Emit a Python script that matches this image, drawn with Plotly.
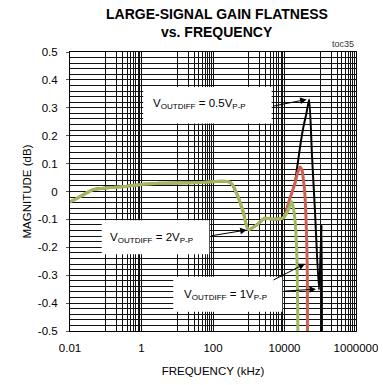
# -*- coding: utf-8 -*-
import plotly.graph_objects as go

# frequency (kHz) / magnitude (dB)
freq_2v = [0.01, 0.0155, 0.029, 0.045, 0.13, 0.39, 1.1, 3.3, 40, 300, 457, 700, 980,
           1660, 2840, 4400, 9300, 12700, 15900, 18700, 21900, 24300]
mag_2v = [-0.037, -0.025, -0.005, 0.007, 0.014, 0.019, 0.026, 0.03, 0.032, 0.033, -0.007,
          -0.073, -0.136, -0.12, -0.096, -0.099, -0.094, -0.067, -0.037, -0.078, -0.21, -0.8]

freq_1v = [0.01, 0.0155, 0.029, 0.045, 0.13, 0.39, 1.1, 3.3, 40, 300, 457, 700, 980,
           1660, 2840, 4400, 9300, 13600, 16500, 19700, 23000, 27200, 31000, 34000,
           37000, 40500, 43500, 44500]
mag_1v = [-0.037, -0.025, -0.005, 0.007, 0.014, 0.019, 0.026, 0.03, 0.032, 0.033, -0.007,
          -0.073, -0.136, -0.12, -0.096, -0.099, -0.094, -0.031, 0.0, 0.029, 0.065, 0.088,
          0.075, 0.04, -0.007, -0.12, -0.3, -0.8]

freq_05v = [0.01, 0.0155, 0.029, 0.045, 0.13, 0.39, 1.1, 3.3, 40, 300, 457, 700, 980,
            1660, 2840, 4400, 9300, 13600, 16500, 19700, 23400, 28000, 33600, 41000,
            49000, 58700, 71000, 92300, 109600, 110500]
mag_05v = [-0.037, -0.025, -0.005, 0.007, 0.014, 0.019, 0.026, 0.03, 0.032, 0.033, -0.007,
           -0.073, -0.136, -0.12, -0.096, -0.099, -0.094, -0.031, 0.0, 0.035, 0.10, 0.17,
           0.23, 0.28, 0.33, 0.13, -0.067, -0.352, -0.12, -0.8]

x_ticks = [0.01, 1, 100, 10000, 1000000]
x_labels = ["0.01", "1", "100", "10000", "1000000"]
y_ticks = [0.5, 0.4, 0.3, 0.2, 0.1, 0, -0.1, -0.2, -0.3, -0.4, -0.5]
y_labels = ["0.5", "0.4", "0.3", "0.2", "0.1", "0", "-0.1", "-0.2", "-0.3", "-0.4", "-0.5"]

# excel-style minor grid: every 0.1*k inside each two-decade span
minor_x = [b * k for b in [0.1, 10, 1000, 100000] for k in range(1, 10)]

FONT = "Liberation Sans, Arial, sans-serif"

fig = go.Figure()
fig.add_trace(go.Scatter(x=freq_05v, y=mag_05v, mode="lines",
                         line=dict(color="#000000", width=2, shape="spline", smoothing=0.6)))
fig.add_trace(go.Scatter(x=freq_1v, y=mag_1v, mode="lines",
                         line=dict(color="#CD5F55", width=3, shape="spline", smoothing=0.8)))
fig.add_trace(go.Scatter(x=freq_2v, y=mag_2v, mode="lines",
                         line=dict(color="#9DBB5E", width=3, shape="spline", smoothing=0.8)))

# white label boxes (paper coords)
for x0, x1, y0, y1 in [(0.256, 0.705, 0.744, 0.875),
                       (0.111, 0.487, 0.275, 0.397),
                       (0.361, 0.742, 0.069, 0.194)]:
    fig.add_shape(type="rect", xref="paper", yref="paper", x0=x0, x1=x1, y0=y0, y1=y1,
                  fillcolor="white", line=dict(width=0), layer="above")

labels = [("V<sub>OUTDIFF</sub> = 0.5V<sub>P-P</sub>", 0.2815, 0.814),
          ("V<sub>OUTDIFF</sub> = 2V<sub>P-P</sub>", 0.134, 0.333),
          ("V<sub>OUTDIFF</sub> = 1V<sub>P-P</sub>", 0.391, 0.129)]
for txt, x, y in labels:
    fig.add_annotation(text=txt, xref="paper", yref="paper", x=x, y=y, xanchor="left",
                       yanchor="middle", showarrow=False, font=dict(family=FONT, size=11.5, color="black"))

# arrows: head in data coords (log10 x), tail offset in px
arrows = [(4.62, 0.33, -35, 7), (2.943, -0.138, -37, 6),
          (4.573, -0.259, -33, 17), (4.881, -0.35, -33, 2)]
for x, y, ax, ay in arrows:
    fig.add_annotation(x=x, y=y, ax=ax, ay=ay, text="", showarrow=True, arrowhead=2,
                       arrowsize=1.3, arrowwidth=1, arrowcolor="black")

fig.add_annotation(text="toc35", xref="paper", yref="paper", x=1.0, y=1.03, xanchor="right",
                   yanchor="middle", showarrow=False, font=dict(family=FONT, size=9, color="#333"))

# title as two annotations
for txt, y in [("LARGE-SIGNAL GAIN FLATNESS", 1.136), ("vs. FREQUENCY", 1.071)]:
    fig.add_annotation(text="<b>" + txt + "</b>", xref="paper", yref="paper", x=0.515, y=y,
                       xanchor="center", yanchor="middle", showarrow=False,
                       font=dict(family=FONT, size=14, color="black"))

# page body adds an 8px offset, so margins are shifted to compensate
fig.update_layout(
    width=386, height=385,
    margin=dict(l=62, r=38, t=44, b=62),
    paper_bgcolor="white", plot_bgcolor="white",
    showlegend=False,
    font=dict(family=FONT, size=11.5, color="black"),
    xaxis=dict(type="log", range=[-2, 6], tickvals=x_ticks, ticktext=x_labels,
               showgrid=True, gridcolor="#111", gridwidth=1,
               minor=dict(tickmode="array", tickvals=minor_x, showgrid=True,
                          gridcolor="#111", gridwidth=1),
               showline=True, linecolor="black", linewidth=1, mirror=True,
               ticks="", ticklabelstandoff=6, automargin=False,
               title=dict(text="FREQUENCY (kHz)", standoff=14, font=dict(size=11.5)),
               zeroline=False),
    yaxis=dict(range=[-0.5, 0.5], tickvals=y_ticks, ticktext=y_labels,
               showgrid=True, gridcolor="#111", gridwidth=1,
               minor=dict(dtick=0.02, tick0=0, showgrid=True, gridcolor="#111", gridwidth=1),
               showline=True, linecolor="black", linewidth=1, mirror=True,
               ticks="outside", ticklen=3, tickcolor="#555", ticklabelstandoff=6,
               automargin=False,
               title=dict(text="MAGNITUDE (dB)", standoff=3, font=dict(size=11.5)),
               zeroline=False),
)

fig.write_html("out.html")
